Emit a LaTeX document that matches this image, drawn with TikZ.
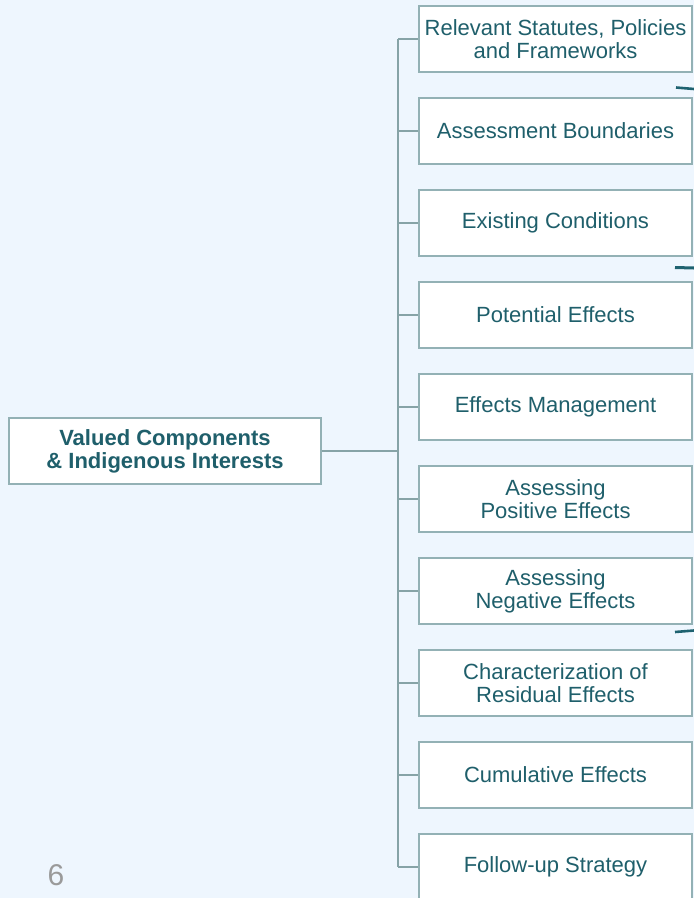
\documentclass[tikz,border=0pt]{standalone}
\usepackage{fontspec}
\setmainfont{Liberation Sans}
\definecolor{bgc}{HTML}{EEF6FE}
\definecolor{bord}{HTML}{93B1B5}
\definecolor{lnc}{HTML}{86A3A7}
\definecolor{txc}{HTML}{1F5F6B}
\definecolor{mark}{HTML}{1E6270}
\definecolor{pgc}{HTML}{9A9A9A}
\begin{document}
\begin{tikzpicture}[x=1pt,y=-1pt,
  box/.style={draw=bord, line width=1.8pt, fill=white, minimum width=273pt, minimum height=66pt,
    inner sep=0pt, align=center, text=txc, font=\fontsize{22}{22.8}\selectfont},
  conn/.style={draw=lnc, line width=2pt},
  markline/.style={draw=mark, line width=2.6pt}]
\fill[bgc] (0,0) rectangle (694,898);
\useasboundingbox (0,0) rectangle (694,898);
\clip (0,0) rectangle (694,898);

\node[box, minimum width=312pt, font=\bfseries\fontsize{22}{22.8}\selectfont] (vc) at (165,451) {Valued Components\\\& Indigenous Interests};

\node[box] (b1) at (555.5,39) {Relevant Statutes, Policies\\and Frameworks};
\node[box] (b2) at (555.5,131) {Assessment Boundaries};
\node[box] (b3) at (555.5,223) {Existing Conditions};
\node[box] (b4) at (555.5,315) {Potential Effects};
\node[box] (b5) at (555.5,407) {Effects Management};
\node[box] (b6) at (555.5,499) {Assessing\\Positive Effects};
\node[box] (b7) at (555.5,591) {Assessing\\Negative Effects};
\node[box] (b8) at (555.5,683) {Characterization of\\Residual Effects};
\node[box] (b9) at (555.5,775) {Cumulative Effects};
\node[box] (b10) at (555.5,867) {Follow-up Strategy};

\coordinate (t) at (398,451);
\draw[conn] (vc.east) -- (t);
\draw[conn] (b1.west -| t) -- (b10.west -| t);
\foreach \i in {1,...,10}{
  \draw[conn] (b\i.west -| t) -- (b\i.west);
}

\draw[markline] (676,87.5) -- (694,89);
\draw[markline, line width=3pt] (675,267.5) -- (694,268);
\draw[markline] (675,632) -- (694,630.5);

\node[text=pgc, font=\fontsize{30}{32}\selectfont] (pg) at (56,875) {6};
\end{tikzpicture}
\end{document}
